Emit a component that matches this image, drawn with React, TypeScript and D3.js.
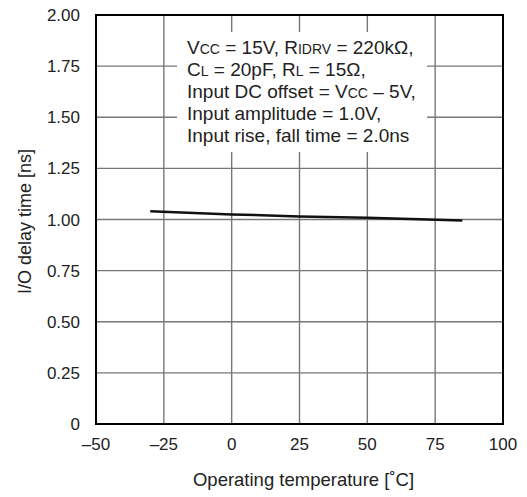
import * as d3 from "d3";

const temps = [-30, 0, 25, 50, 85];
const delays = [1.04, 1.025, 1.015, 1.008, 0.995];
const xTicks = [-50, -25, 0, 25, 50, 75, 100];
const yTicks = [0, 0.25, 0.5, 0.75, 1.0, 1.25, 1.5, 1.75, 2.0];

const W = 527;
const H = 497;
const m = { left: 96, right: 24, top: 15, bottom: 73 };
const font = "'Liberation Sans', Arial, sans-serif";

export default function App() {
  const x = d3.scaleLinear().domain([-50, 100]).range([m.left, W - m.right]);
  const y = d3.scaleLinear().domain([0, 2]).range([H - m.bottom, m.top]);
  const line = d3
    .line<number>()
    .x((_, i) => x(temps[i]))
    .y((d) => y(d));

  const fmtX = (v: number) => (v < 0 ? "\u2013" + Math.abs(v) : String(v));
  const fmtY = (v: number) => (v === 0 ? "0" : d3.format(".2f")(v));

  const grid = "#777";
  const small = 14;

  return (
    <svg
      width={W}
      height={H}
      style={{ position: "absolute", left: 0, top: 0, background: "#fff" }}
      fontFamily={font}
    >
      {/* grid */}
      {xTicks.map((t) => (
        <line key={"gx" + t} x1={x(t)} x2={x(t)} y1={y(0)} y2={y(2)} stroke={grid} strokeWidth={1.4} />
      ))}
      {yTicks.map((t) => (
        <line key={"gy" + t} x1={x(-50)} x2={x(100)} y1={y(t)} y2={y(t)} stroke={grid} strokeWidth={1.4} />
      ))}

      {/* annotation box */}
      <rect x={177} y={32} width={250} height={120} fill="#fff" />
      <g fontSize={19} fill="#222">
        <text x={187} y={54}>
          V<tspan fontSize={small}>CC</tspan> = 15V, R<tspan fontSize={small}>IDRV</tspan> = 220k{"\u03A9"},
        </text>
        <text x={187} y={76}>
          C<tspan fontSize={small}>L</tspan> = 20pF, R<tspan fontSize={small}>L</tspan> = 15{"\u03A9"},
        </text>
        <text x={187} y={98}>
          Input DC offset = V<tspan fontSize={small}>CC</tspan> {"\u2013"} 5V,
        </text>
        <text x={187} y={120}>Input amplitude = 1.0V,</text>
        <text x={187} y={142}>Input rise, fall time = 2.0ns</text>
      </g>

      {/* data line */}
      <path d={line(delays) ?? ""} fill="none" stroke="#111" strokeWidth={2.5} />

      {/* frame */}
      <rect
        x={x(-50)}
        y={y(2)}
        width={x(100) - x(-50)}
        height={y(0) - y(2)}
        fill="none"
        stroke="#000"
        strokeWidth={2}
      />

      {/* tick labels */}
      <g fontSize={17} fill="#222">
        {xTicks.map((t) => (
          <text key={"tx" + t} x={x(t)} y={y(0) + 26} textAnchor="middle">
            {fmtX(t)}
          </text>
        ))}
        {yTicks.map((t) => (
          <text key={"ty" + t} x={m.left - 16} y={y(t) + 6} textAnchor="end">
            {fmtY(t)}
          </text>
        ))}
      </g>

      {/* axis titles */}
      <text x={(x(-50) + x(100)) / 2 + 4} y={486} textAnchor="middle" fontSize={18.5} fill="#222">
        Operating temperature [{"\u02DA"}C]
      </text>
      <text
        transform={`translate(31, ${(y(0) + y(2)) / 2 + 2}) rotate(-90)`}
        textAnchor="middle"
        fontSize={18}
        fill="#222"
      >
        I/O delay time [ns]
      </text>
    </svg>
  );
}
